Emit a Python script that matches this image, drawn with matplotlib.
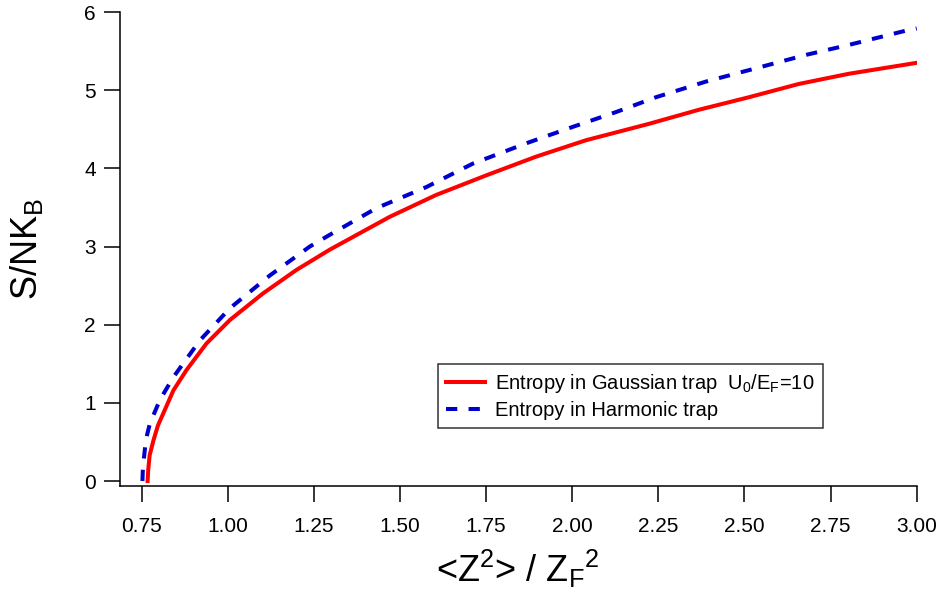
import numpy as np
import matplotlib
matplotlib.use("Agg")
import matplotlib.pyplot as plt

plt.rcParams['font.family'] = ['Liberation Sans', 'DejaVu Sans']
plt.rcParams['mathtext.fontset'] = 'custom'
plt.rcParams['mathtext.rm'] = 'Liberation Sans'
plt.rcParams['mathtext.it'] = 'Liberation Sans:italic'

# Entropy in Gaussian trap (U0/EF = 10)
x_gauss = [0.767, 0.769, 0.773, 0.784, 0.797, 0.813, 0.842, 0.880, 0.938, 1.006,
           1.102, 1.199, 1.296, 1.354, 1.470, 1.605, 1.750, 1.895, 2.040, 2.136,
           2.223, 2.368, 2.513, 2.658, 2.803, 3.000]
s_gauss = [0.0, 0.15, 0.33, 0.52, 0.71, 0.87, 1.16, 1.42, 1.76, 2.06,
           2.40, 2.70, 2.96, 3.10, 3.38, 3.66, 3.91, 4.15, 4.36, 4.47,
           4.57, 4.75, 4.91, 5.08, 5.21, 5.35]

# Entropy in Harmonic trap
x_harm = [0.752, 0.753, 0.756, 0.760, 0.766, 0.774, 0.803, 0.842, 0.919, 1.006,
          1.122, 1.238, 1.296, 1.431, 1.576, 1.711, 1.866, 2.001, 2.127, 2.243,
          2.388, 2.533, 2.677, 2.813, 2.967, 3.000]
s_harm = [0.0, 0.12, 0.28, 0.44, 0.60, 0.74, 1.04, 1.33, 1.80, 2.21,
          2.63, 3.00, 3.15, 3.49, 3.76, 4.06, 4.32, 4.53, 4.72, 4.91,
          5.11, 5.28, 5.45, 5.59, 5.76, 5.79]

xticks = [0.75, 1.00, 1.25, 1.50, 1.75, 2.00, 2.25, 2.50, 2.75, 3.00]
yticks = [0, 1, 2, 3, 4, 5, 6]

fig = plt.figure(figsize=(9.4, 6.01), dpi=100)
ax = fig.add_axes([0.1277, 0.1913, 0.8475, 0.7887])

ax.plot(x_gauss, s_gauss, color='#FF0000', lw=2.9,
        label='Entropy in Gaussian trap  U$_\\mathregular{0}$/E$_\\mathregular{F}$=10')
ax.plot(x_harm, s_harm, color='#0000CC', lw=2.9, dashes=(2.8, 2.8),
        label='Entropy in Harmonic trap')

ax.set_xlim(0.687, 3.0)
ax.set_ylim(-0.064, 6.0)
ax.set_xticks(xticks)
ax.set_xticklabels(['%.2f' % v for v in xticks])
ax.set_yticks(yticks)

for side in ['top', 'right']:
    ax.spines[side].set_visible(False)
for side in ['left', 'bottom']:
    ax.spines[side].set_linewidth(1.1)
ax.tick_params(axis='both', direction='out', length=11.5, width=1.1, labelsize=15)
ax.tick_params(axis='y', pad=6)
ax.tick_params(axis='x', pad=11)

ax.set_xlabel('<Z$^\\mathregular{2}$> / Z$_\\mathregular{F}$$^\\mathregular{2}$', fontsize=26, labelpad=8)
ax.set_ylabel('S/NK$_\\mathregular{B}$', fontsize=26, labelpad=28)

leg = ax.legend(loc='upper left', bbox_to_anchor=(0.399, 0.257), borderaxespad=0,
                fontsize=14.5, frameon=True, fancybox=False, handlelength=1.95,
                handletextpad=0.5, borderpad=0.4, labelspacing=0.3)
leg.get_frame().set_edgecolor('black')
leg.get_frame().set_linewidth(1.1)

fig.savefig('out.png', dpi=100)
